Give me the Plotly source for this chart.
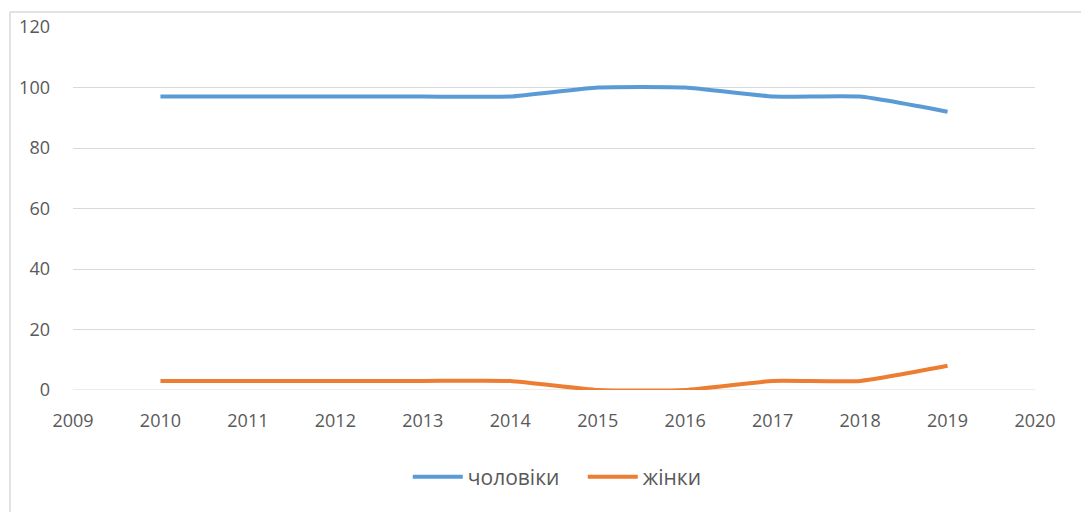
import plotly.graph_objects as go

years = [2010, 2011, 2012, 2013, 2014, 2015, 2016, 2017, 2018, 2019]
men = [97, 97, 97, 97, 97, 100, 100, 97, 97, 92]
women = [3, 3, 3, 3, 3, 0, 0, 3, 3, 8]
x_ticks = list(range(2009, 2021))
y_ticks = [0, 20, 40, 60, 80, 100, 120]

fig = go.Figure()
fig.add_trace(go.Scatter(x=years, y=men, mode="lines", name="чоловіки",
                         line=dict(color="#5B9BD5", width=4, shape="spline", smoothing=0.45)))
fig.add_trace(go.Scatter(x=years, y=women, mode="lines", name="жінки",
                         line=dict(color="#ED7D31", width=4, shape="spline", smoothing=0.45)))

fig.update_layout(
    width=1081, height=504,
    margin=dict(l=65, r=54, t=19, b=122, autoexpand=False),
    paper_bgcolor="white", plot_bgcolor="white",
    font=dict(family="Open Sans, Liberation Sans, sans-serif", size=18, color="#595959"),
    showlegend=True,
    legend=dict(orientation="h", x=0.348, xanchor="left", y=-0.24, yanchor="middle",
                font=dict(size=21, color="#595959"), itemwidth=50,
                entrywidth=110, entrywidthmode="pixels"),
    xaxis=dict(range=[2009, 2020], tickvals=x_ticks, ticktext=[str(v) for v in x_ticks],
               showgrid=False, zeroline=False, showline=False, ticks="", ticklabelstandoff=18,
               automargin=False),
    yaxis=dict(range=[0, 120], tickvals=y_ticks, showgrid=True, gridcolor="#d9d9d9",
               gridwidth=1, zeroline=False, showline=False, ticks="", ticklabelstandoff=22,
               automargin=False),
    shapes=[
        dict(type="line", xref="paper", yref="paper", x0=-0.0655, x1=1.06, y0=1.041, y1=1.041,
             line=dict(color="#d9d9d9", width=1.5)),
        dict(type="line", xref="paper", yref="paper", x0=-0.0655, x1=-0.0655, y0=1.041, y1=-0.4,
             line=dict(color="#d9d9d9", width=1.5)),
        dict(type="line", xref="paper", yref="y", x0=0, x1=1, y0=0, y1=0,
             line=dict(color="#d9d9d9", width=1), layer="below"),
    ],
)

fig.write_html("out.html")
